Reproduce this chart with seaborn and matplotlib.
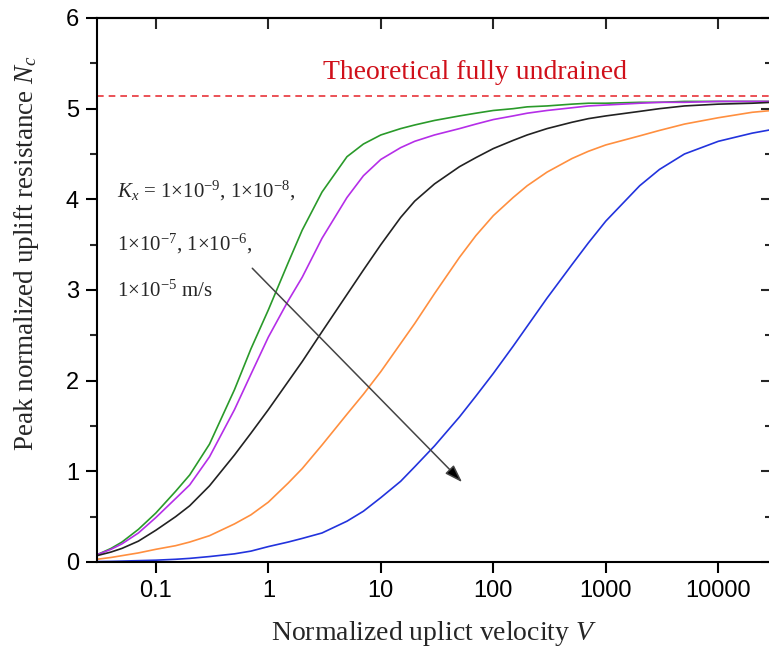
import numpy as np
import pandas as pd
import matplotlib
matplotlib.use("Agg")
import matplotlib.pyplot as plt
import seaborn as sns
from matplotlib.ticker import FixedLocator, NullLocator, FixedFormatter, MultipleLocator

# ---- data ----
V = [0.03, 0.04, 0.05, 0.07, 0.1, 0.15, 0.2, 0.3, 0.5, 0.7, 1, 1.5, 2, 3, 5, 7, 10, 15, 20, 30, 50, 70,
     100, 150, 200, 300, 500, 700, 1000, 2000, 3000, 5000, 10000, 20000, 30000]
nc_k9 = [0.08, 0.15, 0.22, 0.36, 0.54, 0.78, 0.96, 1.30, 1.90, 2.35, 2.78, 3.30, 3.66, 4.08, 4.47, 4.61, 4.71,
         4.78, 4.82, 4.87, 4.92, 4.95, 4.98, 5.00, 5.02, 5.03, 5.05, 5.06, 5.06, 5.07, 5.07, 5.08, 5.08, 5.08, 5.08]
nc_k8 = [0.08, 0.14, 0.20, 0.32, 0.49, 0.70, 0.85, 1.16, 1.68, 2.07, 2.48, 2.88, 3.14, 3.57, 4.02, 4.26, 4.44,
         4.57, 4.64, 4.71, 4.78, 4.83, 4.88, 4.92, 4.95, 4.98, 5.01, 5.03, 5.04, 5.06, 5.07, 5.07, 5.08, 5.08, 5.08]
nc_k7 = [0.07, 0.11, 0.15, 0.23, 0.35, 0.50, 0.62, 0.84, 1.18, 1.42, 1.68, 1.99, 2.21, 2.54, 2.95, 3.22, 3.50,
         3.80, 3.98, 4.17, 4.36, 4.46, 4.56, 4.65, 4.71, 4.78, 4.85, 4.89, 4.92, 4.97, 5.00, 5.03, 5.05, 5.06, 5.07]
nc_k6 = [0.03, 0.05, 0.07, 0.10, 0.14, 0.18, 0.22, 0.29, 0.42, 0.52, 0.66, 0.87, 1.03, 1.29, 1.63, 1.85, 2.10,
         2.41, 2.63, 2.96, 3.36, 3.60, 3.82, 4.02, 4.15, 4.30, 4.45, 4.53, 4.60, 4.70, 4.76, 4.83, 4.90, 4.96, 4.98]
nc_k5 = [0.005, 0.007, 0.01, 0.015, 0.02, 0.03, 0.04, 0.06, 0.09, 0.12, 0.17, 0.22, 0.26, 0.32, 0.45, 0.56, 0.71,
         0.89, 1.05, 1.28, 1.60, 1.83, 2.08, 2.38, 2.60, 2.91, 3.28, 3.52, 3.76, 4.15, 4.33, 4.50, 4.64, 4.73, 4.77]
series_names = ["1e-9", "1e-8", "1e-7", "1e-6", "1e-5"]
series_colors = ["#2a9a2a", "#b52ee8", "#222222", "#ff8f3f", "#2233dd"]
nc_undrained = 5.14
x_ticks = [0.1, 1, 10, 100, 1000, 10000]
x_ticklabels = ["0.1", "1", "10", "100", "1000", "10000"]
y_ticks = [0, 1, 2, 3, 4, 5, 6]

sns.set_theme(style="ticks")
plt.rcParams["font.family"] = ["Liberation Sans", "DejaVu Sans"]
plt.rcParams["mathtext.fontset"] = "custom"
plt.rcParams["mathtext.rm"] = "Liberation Serif"
plt.rcParams["mathtext.it"] = "Liberation Serif:italic"

all_vals = [nc_k9, nc_k8, nc_k7, nc_k6, nc_k5]
df = pd.concat([pd.DataFrame({"V": V, "Nc": vals, "K": name})
                for name, vals in zip(series_names, all_vals)], ignore_index=True)

fig = plt.figure(figsize=(7.69, 6.50), dpi=100)
ax = fig.add_axes([97 / 769, 88 / 650, 675 / 769, 544 / 650])

sns.lineplot(data=df, x="V", y="Nc", hue="K", palette=dict(zip(series_names, series_colors)),
             estimator=None, sort=True, legend=False, linewidth=1.2, ax=ax)
for ln in ax.get_lines():
    ln.set_solid_joinstyle("round")
ax.axhline(nc_undrained, color="#e8343a", linestyle=(0, (4, 3)), linewidth=1.2)

ax.set_xscale("log")
ax.set_xlim(0.03, 30000)
ax.set_ylim(0, 6)

for sp in ax.spines.values():
    sp.set_linewidth(1.5)
    sp.set_color("black")
    sp.set_visible(True)

ax.xaxis.set_major_locator(FixedLocator(x_ticks))
ax.xaxis.set_major_formatter(FixedFormatter(x_ticklabels))
ax.xaxis.set_minor_locator(NullLocator())
ax.yaxis.set_major_locator(FixedLocator(y_ticks))
ax.yaxis.set_minor_locator(MultipleLocator(0.5))
ax.tick_params(axis="both", which="major", direction="out", length=8, width=1.5,
               labelsize=17, colors="black", pad=5)
ax.tick_params(axis="y", which="minor", direction="out", length=5, width=1.5)

secx = ax.secondary_xaxis("top")
secx.xaxis.set_major_locator(FixedLocator(x_ticks))
secx.xaxis.set_minor_locator(NullLocator())
secx.tick_params(which="major", direction="in", length=8, width=1.5, labeltop=False)
secx.spines["top"].set_linewidth(1.5)

secy = ax.secondary_yaxis("right")
secy.yaxis.set_major_locator(FixedLocator(y_ticks))
secy.yaxis.set_minor_locator(MultipleLocator(0.5))
secy.tick_params(which="major", direction="in", length=8, width=1.5, labelright=False)
secy.tick_params(which="minor", direction="in", length=5, width=1.5, labelright=False)

ax.set_xlabel(r"Normalized uplict velocity $V$", fontsize=20, family="Liberation Serif")
ax.set_ylabel(r"Peak normalized uplift resistance $N_c$", fontsize=19.5, family="Liberation Serif")
ax.xaxis.label.set_va("center")
ax.xaxis.set_label_coords(0.5, -0.132)
ax.yaxis.label.set_va("center")
ax.yaxis.set_label_coords(-0.105, 0.568)

ax.text(0.56, 0.90, "Theoretical fully undrained", transform=ax.transAxes, ha="center", va="center",
        fontsize=20, color="#d0101a", family="Liberation Serif")

txt_kw = dict(transform=ax.transAxes, ha="left", va="center", fontsize=15, family="Liberation Serif")
ax.text(0.03, 0.682, r"$K_x$ = 1×10$^{-9}$, 1×10$^{-8}$,", **txt_kw)
ax.text(0.03, 0.585, r"1×10$^{-7}$, 1×10$^{-6}$,", **txt_kw)
ax.text(0.03, 0.497, r"1×10$^{-5}$ m/s", **txt_kw)

ax.annotate("", xy=(52.8, 0.88), xytext=(0.72, 3.24),
            arrowprops=dict(arrowstyle="-|>,head_length=0.9,head_width=0.3", edgecolor="#444444",
                            facecolor="black", lw=1.1, shrinkA=0, shrinkB=0))

fig.savefig("out.png", dpi=100)
